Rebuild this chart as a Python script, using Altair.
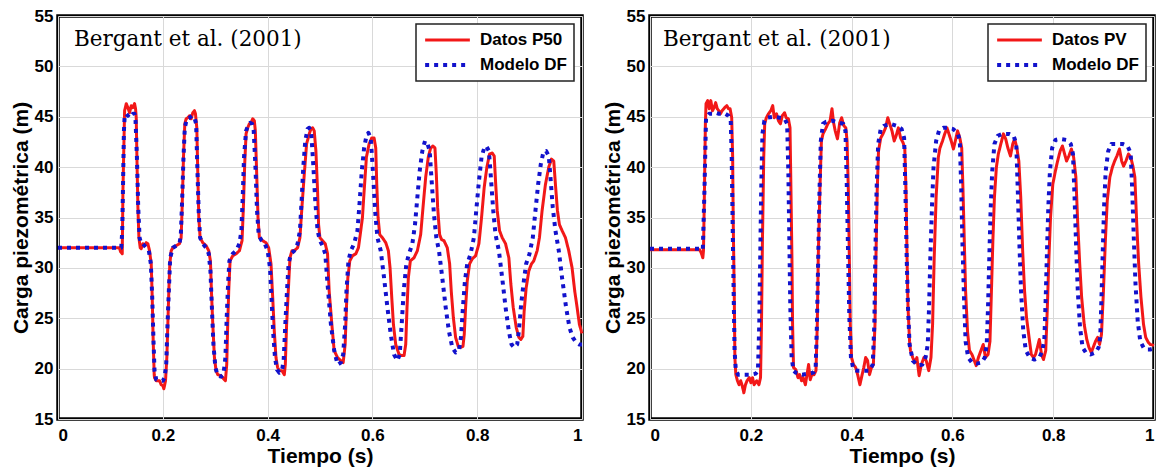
import altair as alt
import pandas as pd

X_TICKS = [0, 0.2, 0.4, 0.6, 0.8, 1.0]
Y_TICKS = [15, 20, 25, 30, 35, 40, 45, 50, 55]
X_TITLE = "Tiempo (s)"
Y_TITLE = "Carga piezométrica (m)"
ANNOTATION = "Bergant et al. (2001)"
LEFT_DATA_NAME = "Datos P50"
RIGHT_DATA_NAME = "Datos PV"
MODEL_NAME = "Modelo DF"
RED = "#f21818"
BLUE = "#1212cc"

# (t [s], carga [m])
p50 = [(0.0, 32.0), (0.05, 32.0), (0.1, 32.0), (0.117, 32.0), (0.1195, 31.6), (0.1226, 31.4), (0.1239, 37.6), (0.1271, 45.6), (0.1303, 46.3), (0.1334, 45.9), (0.1366, 45.4), (0.1398, 46.1), (0.143, 45.9), (0.1461, 46.3), (0.148, 45.8), (0.1493, 44.9), (0.1506, 41.0), (0.1525, 36.0), (0.1544, 33.0), (0.1569, 32.0), (0.1588, 31.9), (0.162, 32.4), (0.1652, 32.2), (0.1684, 32.5), (0.1715, 32.4), (0.1747, 31.7), (0.1779, 30.4), (0.1798, 27.1), (0.1817, 22.7), (0.1836, 19.4), (0.1842, 19.1), (0.1874, 18.8), (0.1938, 18.8), (0.1969, 18.4), (0.2001, 18.3), (0.202, 18.0), (0.2052, 18.8), (0.2077, 21.1), (0.2096, 24.4), (0.2115, 27.7), (0.2134, 30.4), (0.216, 31.7), (0.2192, 32.0), (0.2255, 32.2), (0.2319, 32.4), (0.235, 33.0), (0.2369, 36.0), (0.2395, 41.0), (0.242, 44.3), (0.2446, 44.8), (0.2477, 44.9), (0.2509, 45.1), (0.2541, 44.8), (0.2573, 45.4), (0.2604, 45.6), (0.2623, 45.3), (0.2649, 43.9), (0.2668, 39.3), (0.2687, 35.0), (0.2712, 33.0), (0.2763, 32.5), (0.2827, 32.2), (0.2877, 31.7), (0.2909, 30.7), (0.2928, 27.7), (0.2954, 24.4), (0.2985, 21.1), (0.3017, 19.8), (0.3049, 19.4), (0.3112, 19.3), (0.3176, 18.9), (0.3195, 18.8), (0.322, 20.4), (0.3239, 24.4), (0.3258, 27.7), (0.3284, 30.7), (0.3335, 31.2), (0.3398, 31.4), (0.3462, 31.7), (0.3512, 32.7), (0.3538, 36.0), (0.3563, 40.3), (0.3589, 43.3), (0.362, 43.9), (0.3652, 44.3), (0.3684, 44.4), (0.3716, 44.8), (0.3747, 44.6), (0.3766, 43.6), (0.3792, 39.3), (0.3817, 35.0), (0.3843, 33.0), (0.3906, 32.7), (0.397, 32.5), (0.402, 32.0), (0.4065, 30.4), (0.4097, 27.1), (0.4128, 23.7), (0.416, 21.1), (0.4192, 20.1), (0.4224, 19.8), (0.4274, 19.8), (0.4319, 19.4), (0.4338, 20.4), (0.4363, 24.4), (0.4395, 27.7), (0.4427, 31.0), (0.4465, 31.7), (0.4509, 31.7), (0.4573, 32.0), (0.4617, 33.0), (0.4655, 36.0), (0.47, 39.3), (0.4744, 42.3), (0.4795, 43.3), (0.4827, 43.8), (0.4859, 43.9), (0.489, 43.6), (0.4922, 41.6), (0.4954, 37.6), (0.4973, 34.3), (0.4998, 33.0), (0.5049, 32.7), (0.51, 32.4), (0.5144, 31.4), (0.5175, 27.7), (0.5226, 24.4), (0.527, 21.8), (0.5334, 21.1), (0.5397, 20.8), (0.5442, 20.6), (0.548, 22.4), (0.5505, 26.1), (0.5531, 29.0), (0.5569, 30.7), (0.562, 31.2), (0.5683, 31.4), (0.5734, 32.0), (0.5778, 33.7), (0.581, 35.0), (0.5842, 37.6), (0.5886, 41.0), (0.5937, 42.3), (0.5988, 42.9), (0.6032, 42.9), (0.6064, 41.9), (0.6083, 38.3), (0.6108, 35.0), (0.614, 33.3), (0.6191, 33.0), (0.6255, 32.5), (0.6305, 31.7), (0.6337, 30.0), (0.6369, 27.1), (0.6401, 24.4), (0.6445, 22.4), (0.6509, 21.4), (0.6559, 21.3), (0.6604, 21.3), (0.6636, 22.4), (0.6661, 26.1), (0.6686, 29.0), (0.6724, 30.7), (0.6794, 31.0), (0.6858, 31.7), (0.6921, 33.3), (0.6966, 36.0), (0.7017, 39.0), (0.7067, 41.0), (0.7112, 41.9), (0.7156, 42.1), (0.7194, 41.9), (0.722, 39.3), (0.7245, 36.0), (0.7283, 33.3), (0.7321, 32.8), (0.7366, 32.7), (0.7429, 32.0), (0.7474, 30.4), (0.7505, 27.7), (0.7544, 25.1), (0.7588, 23.1), (0.7639, 22.2), (0.7683, 22.1), (0.7728, 22.2), (0.7753, 23.4), (0.7779, 26.1), (0.781, 28.7), (0.7855, 30.4), (0.7906, 30.9), (0.7969, 31.2), (0.8033, 32.4), (0.8083, 35.0), (0.8134, 38.0), (0.8185, 40.0), (0.8236, 41.3), (0.8287, 41.4), (0.8325, 41.1), (0.835, 38.6), (0.8382, 35.7), (0.8426, 33.7), (0.8477, 33.0), (0.8541, 32.4), (0.8604, 31.0), (0.8642, 28.4), (0.8687, 26.1), (0.8744, 24.1), (0.8795, 23.1), (0.8833, 22.9), (0.8871, 23.2), (0.8896, 25.7), (0.8934, 28.0), (0.8985, 29.7), (0.9036, 30.4), (0.908, 30.7), (0.9144, 31.7), (0.9188, 33.0), (0.9239, 35.7), (0.9303, 38.3), (0.9366, 40.0), (0.9417, 40.8), (0.9461, 40.6), (0.9493, 38.3), (0.9531, 35.7), (0.9569, 34.3), (0.962, 33.7), (0.9684, 33.0), (0.9747, 31.7), (0.9811, 30.0), (0.9861, 27.7), (0.9906, 26.1), (0.995, 24.4), (0.9988, 23.7), (1.0, 23.5)]

df_left = [(0.0, 32.0), (0.1, 32.0), (0.1207, 32.0), (0.1226, 33.7), (0.1239, 37.6), (0.1258, 43.6), (0.1271, 44.9), (0.1303, 45.3), (0.1334, 45.1), (0.1366, 45.3), (0.1398, 45.1), (0.143, 45.3), (0.1461, 45.3), (0.148, 44.6), (0.1506, 41.0), (0.1531, 36.0), (0.1557, 33.0), (0.1588, 32.4), (0.162, 32.4), (0.1684, 32.0), (0.1734, 31.7), (0.1772, 30.4), (0.1798, 27.1), (0.1823, 22.7), (0.1842, 19.8), (0.1874, 18.9), (0.1938, 18.8), (0.2001, 18.8), (0.2033, 19.1), (0.2065, 20.4), (0.209, 24.4), (0.2115, 27.7), (0.2141, 31.0), (0.2192, 32.0), (0.2255, 32.2), (0.2319, 32.4), (0.2344, 33.3), (0.2369, 36.7), (0.2395, 41.0), (0.242, 43.9), (0.2458, 44.8), (0.2509, 44.9), (0.256, 45.1), (0.2604, 44.9), (0.2636, 44.3), (0.2661, 39.6), (0.2687, 35.3), (0.2712, 33.0), (0.2763, 32.4), (0.2827, 32.0), (0.2877, 31.4), (0.2909, 29.7), (0.2934, 26.4), (0.2966, 22.4), (0.3004, 20.1), (0.3049, 19.3), (0.3112, 19.2), (0.3157, 19.4), (0.3195, 21.1), (0.322, 25.1), (0.3246, 28.4), (0.3271, 30.7), (0.3335, 31.4), (0.3398, 31.7), (0.3462, 32.4), (0.35, 33.7), (0.3525, 37.0), (0.355, 41.0), (0.3589, 43.6), (0.3639, 44.3), (0.3665, 44.4), (0.3703, 44.3), (0.3735, 43.6), (0.3766, 40.3), (0.3798, 35.7), (0.383, 33.3), (0.3874, 32.8), (0.3938, 32.5), (0.4001, 31.7), (0.4046, 30.0), (0.4077, 26.7), (0.4109, 23.4), (0.4141, 21.1), (0.4179, 19.9), (0.4224, 19.6), (0.4274, 19.8), (0.4306, 20.8), (0.4338, 24.4), (0.437, 27.7), (0.4401, 30.4), (0.4446, 31.4), (0.4509, 31.7), (0.4573, 32.4), (0.4617, 33.7), (0.4649, 36.7), (0.4681, 40.0), (0.4719, 42.6), (0.4763, 43.8), (0.4795, 43.9), (0.4833, 43.4), (0.4871, 40.3), (0.4909, 36.7), (0.4954, 33.7), (0.4998, 32.7), (0.5049, 32.2), (0.51, 31.4), (0.5144, 28.4), (0.5208, 24.4), (0.5271, 21.8), (0.5335, 20.4), (0.5397, 20.6), (0.5442, 21.4), (0.548, 24.4), (0.5505, 27.7), (0.5543, 30.7), (0.5588, 31.7), (0.5651, 32.4), (0.5715, 33.7), (0.5759, 36.7), (0.5797, 39.6), (0.5842, 41.9), (0.5886, 43.1), (0.5924, 43.4), (0.5969, 42.9), (0.6013, 39.3), (0.6051, 35.7), (0.6096, 33.0), (0.6159, 31.7), (0.6223, 29.0), (0.6286, 26.1), (0.635, 23.4), (0.6413, 21.4), (0.6477, 20.8), (0.6521, 21.4), (0.6559, 24.4), (0.6597, 27.7), (0.6648, 30.4), (0.6699, 31.4), (0.6763, 32.4), (0.6813, 34.3), (0.6858, 37.0), (0.6902, 39.6), (0.6953, 41.6), (0.7004, 42.6), (0.7048, 42.4), (0.7093, 41.6), (0.7131, 38.6), (0.7175, 35.3), (0.722, 33.0), (0.7271, 31.7), (0.7334, 29.0), (0.7398, 26.1), (0.7461, 23.7), (0.7525, 22.1), (0.7588, 21.6), (0.7652, 21.8), (0.769, 23.1), (0.7728, 26.1), (0.7766, 28.7), (0.781, 30.4), (0.7874, 31.4), (0.7937, 33.0), (0.7982, 35.7), (0.8033, 38.6), (0.8083, 41.0), (0.8134, 41.9), (0.8172, 42.1), (0.8223, 41.6), (0.8261, 39.0), (0.8306, 35.7), (0.835, 33.3), (0.8414, 31.7), (0.8477, 29.0), (0.8541, 26.1), (0.8604, 23.7), (0.8655, 22.4), (0.8706, 22.1), (0.8763, 22.4), (0.8795, 23.7), (0.8839, 26.4), (0.889, 28.7), (0.8934, 30.4), (0.8998, 31.4), (0.9061, 33.0), (0.9112, 35.7), (0.9163, 38.3), (0.9214, 40.3), (0.9264, 41.5), (0.9315, 41.6), (0.9366, 41.1), (0.9404, 38.6), (0.9442, 36.0), (0.9493, 33.7), (0.9557, 31.7), (0.962, 29.0), (0.9696, 26.1), (0.976, 24.1), (0.9823, 23.1), (0.9887, 22.6), (0.995, 22.4), (1.0, 22.4)]

pv = [(0.0, 31.8), (0.05, 31.8), (0.09, 31.8), (0.0985, 31.8), (0.1016, 31.5), (0.1048, 31.0), (0.1061, 31.7), (0.108, 37.6), (0.1099, 44.3), (0.1112, 46.3), (0.1144, 46.6), (0.1175, 45.8), (0.1207, 46.6), (0.1239, 45.6), (0.1271, 45.9), (0.1303, 46.4), (0.1334, 45.8), (0.1366, 45.6), (0.1398, 45.3), (0.143, 45.6), (0.1481, 45.9), (0.1525, 46.1), (0.1557, 45.8), (0.1589, 45.8), (0.1621, 44.9), (0.164, 41.0), (0.1652, 34.3), (0.1671, 27.7), (0.1684, 21.1), (0.1703, 19.4), (0.1735, 18.8), (0.1767, 18.4), (0.1799, 18.8), (0.183, 18.3), (0.1862, 17.6), (0.1894, 18.4), (0.1926, 18.8), (0.197, 19.1), (0.2002, 18.6), (0.2034, 19.1), (0.2066, 18.4), (0.2117, 18.8), (0.2161, 18.4), (0.2193, 19.1), (0.2212, 24.4), (0.2231, 32.7), (0.2257, 41.0), (0.2276, 44.3), (0.2308, 44.9), (0.2352, 45.3), (0.2397, 45.6), (0.2435, 46.1), (0.2466, 44.9), (0.2511, 45.3), (0.2549, 44.6), (0.2587, 44.3), (0.2625, 45.1), (0.267, 45.4), (0.2702, 44.9), (0.2746, 44.8), (0.2778, 43.9), (0.2797, 37.6), (0.2816, 31.0), (0.2829, 24.4), (0.2848, 20.1), (0.2893, 19.9), (0.2937, 19.1), (0.2969, 19.4), (0.3007, 18.8), (0.3039, 19.1), (0.3083, 18.4), (0.3115, 19.4), (0.3147, 20.4), (0.3179, 18.9), (0.3211, 19.4), (0.3255, 19.4), (0.3293, 19.8), (0.3319, 24.4), (0.3338, 31.0), (0.337, 37.6), (0.3401, 42.6), (0.3433, 43.3), (0.3484, 43.8), (0.3529, 44.3), (0.3573, 44.6), (0.3611, 45.8), (0.3643, 44.4), (0.3675, 43.6), (0.3719, 42.8), (0.3764, 44.4), (0.3802, 44.9), (0.3847, 44.1), (0.3885, 43.9), (0.391, 42.6), (0.3936, 37.6), (0.3955, 31.0), (0.3974, 24.4), (0.3999, 21.1), (0.4037, 20.4), (0.4082, 20.1), (0.412, 19.4), (0.4165, 18.4), (0.4209, 19.4), (0.4241, 20.1), (0.4279, 21.1), (0.4317, 20.8), (0.4355, 19.4), (0.4394, 20.1), (0.4432, 20.4), (0.4464, 24.4), (0.4483, 31.0), (0.4508, 37.6), (0.4534, 41.6), (0.4578, 42.9), (0.4623, 43.3), (0.4673, 43.9), (0.4718, 44.9), (0.4756, 44.3), (0.4801, 43.6), (0.4845, 42.6), (0.4883, 43.1), (0.4928, 43.9), (0.4972, 42.9), (0.5023, 42.4), (0.5055, 41.9), (0.508, 37.6), (0.51, 31.0), (0.5119, 26.1), (0.515, 22.7), (0.5168, 21.8), (0.5212, 21.1), (0.5257, 20.6), (0.5295, 21.1), (0.534, 19.3), (0.5384, 20.4), (0.5435, 21.1), (0.548, 20.8), (0.553, 19.8), (0.5575, 21.1), (0.5607, 24.4), (0.5639, 31.0), (0.5677, 37.0), (0.5721, 41.0), (0.5753, 41.9), (0.5804, 42.6), (0.5848, 43.3), (0.5893, 43.9), (0.5931, 43.3), (0.5976, 42.6), (0.602, 41.8), (0.6058, 42.6), (0.6103, 43.6), (0.6147, 42.9), (0.6185, 41.9), (0.6211, 37.6), (0.6236, 32.7), (0.6262, 27.7), (0.63, 23.7), (0.6338, 21.8), (0.6389, 21.4), (0.6434, 20.8), (0.6472, 20.3), (0.6516, 21.1), (0.6567, 21.8), (0.6612, 22.4), (0.6656, 21.1), (0.6707, 21.4), (0.6745, 22.7), (0.6771, 27.1), (0.6803, 32.7), (0.6834, 37.0), (0.6873, 40.0), (0.6911, 41.3), (0.6961, 42.3), (0.7012, 43.3), (0.7057, 42.8), (0.7101, 41.9), (0.7152, 41.1), (0.7197, 42.3), (0.7235, 42.8), (0.7279, 41.9), (0.7318, 40.6), (0.7356, 37.0), (0.7394, 31.7), (0.7432, 27.7), (0.747, 25.1), (0.7521, 23.1), (0.7566, 21.4), (0.761, 21.1), (0.7648, 21.4), (0.7686, 22.1), (0.7725, 22.9), (0.7769, 21.4), (0.7807, 20.9), (0.7852, 21.8), (0.7884, 26.1), (0.7915, 31.0), (0.7947, 35.0), (0.7992, 38.3), (0.8043, 39.6), (0.8087, 40.6), (0.8138, 41.6), (0.8183, 42.1), (0.8221, 41.4), (0.8265, 40.6), (0.831, 41.1), (0.8361, 41.8), (0.8405, 41.0), (0.845, 39.0), (0.8488, 34.3), (0.8526, 30.4), (0.8564, 27.1), (0.8615, 24.4), (0.8666, 22.9), (0.871, 22.1), (0.8755, 21.6), (0.8793, 22.1), (0.8838, 22.7), (0.8882, 23.1), (0.892, 22.4), (0.8958, 23.4), (0.8997, 27.7), (0.9035, 32.7), (0.9073, 36.7), (0.9124, 39.0), (0.9175, 40.0), (0.9219, 40.6), (0.9264, 41.1), (0.9315, 41.8), (0.9359, 40.6), (0.9397, 40.1), (0.9442, 40.6), (0.9493, 41.3), (0.9537, 41.0), (0.9582, 40.1), (0.962, 39.0), (0.9658, 34.3), (0.9696, 30.4), (0.9741, 27.1), (0.9792, 24.4), (0.9836, 23.1), (0.9887, 22.6), (0.9925, 22.4), (1.0, 22.3)]

df_right = [(0.0, 31.9), (0.1, 31.9), (0.1048, 31.8), (0.108, 37.6), (0.1112, 44.9), (0.1175, 45.3), (0.1239, 45.3), (0.1303, 45.4), (0.1366, 45.3), (0.143, 45.3), (0.1493, 45.3), (0.1557, 45.1), (0.1602, 44.6), (0.1621, 41.0), (0.164, 34.3), (0.1659, 27.7), (0.1678, 21.8), (0.1703, 19.8), (0.1748, 19.4), (0.1875, 19.4), (0.2002, 19.4), (0.2098, 19.5), (0.2142, 19.8), (0.2168, 24.4), (0.2187, 31.0), (0.2206, 37.6), (0.2231, 43.3), (0.2269, 44.6), (0.232, 44.9), (0.2447, 45.0), (0.2575, 44.9), (0.267, 44.8), (0.2721, 44.3), (0.2746, 39.3), (0.2765, 32.7), (0.2784, 26.1), (0.281, 21.1), (0.2848, 19.8), (0.2893, 19.6), (0.302, 19.4), (0.3147, 19.5), (0.3242, 19.6), (0.3287, 20.1), (0.3312, 24.4), (0.3338, 31.0), (0.3363, 37.6), (0.3389, 42.6), (0.3433, 44.3), (0.3497, 44.5), (0.3624, 44.6), (0.3751, 44.4), (0.3834, 44.3), (0.3878, 43.6), (0.3904, 38.3), (0.3929, 31.7), (0.3955, 25.1), (0.3987, 21.1), (0.4037, 19.9), (0.4101, 19.8), (0.4228, 19.8), (0.4355, 19.8), (0.4419, 20.4), (0.4451, 24.4), (0.447, 31.0), (0.4495, 37.6), (0.4527, 42.3), (0.4578, 43.8), (0.4642, 44.1), (0.4769, 44.3), (0.4896, 44.1), (0.4991, 43.8), (0.5042, 42.9), (0.5068, 37.6), (0.5093, 31.0), (0.5119, 26.1), (0.515, 22.4), (0.5214, 20.8), (0.5308, 20.3), (0.5403, 20.4), (0.5467, 21.1), (0.5511, 22.4), (0.5537, 26.1), (0.5562, 31.0), (0.5594, 36.0), (0.5626, 40.0), (0.5677, 42.6), (0.5734, 43.6), (0.5817, 43.9), (0.5912, 43.9), (0.6007, 43.8), (0.6103, 43.4), (0.6147, 42.6), (0.6173, 38.3), (0.6198, 32.7), (0.623, 27.1), (0.6262, 22.7), (0.6313, 21.1), (0.6389, 20.6), (0.6484, 20.5), (0.658, 20.6), (0.6643, 21.1), (0.6681, 22.4), (0.6707, 26.1), (0.6732, 31.0), (0.6758, 35.7), (0.679, 39.6), (0.6834, 42.3), (0.6898, 43.1), (0.6993, 43.3), (0.712, 43.3), (0.7216, 43.1), (0.7267, 42.3), (0.7298, 37.6), (0.733, 32.3), (0.7362, 27.7), (0.7407, 23.7), (0.7457, 21.8), (0.7534, 21.1), (0.7629, 20.9), (0.7725, 21.1), (0.7788, 21.8), (0.7826, 23.1), (0.7852, 27.1), (0.7877, 31.7), (0.7903, 36.0), (0.7935, 39.6), (0.7979, 41.9), (0.8043, 42.7), (0.8138, 42.8), (0.8265, 42.7), (0.8348, 42.3), (0.8392, 41.3), (0.8424, 37.0), (0.8456, 32.0), (0.8488, 27.7), (0.8532, 24.1), (0.8583, 22.1), (0.8647, 21.6), (0.8742, 21.4), (0.8838, 21.6), (0.8901, 22.1), (0.8933, 23.1), (0.8958, 27.1), (0.8984, 31.7), (0.9009, 36.0), (0.9041, 39.6), (0.9092, 41.6), (0.9156, 42.3), (0.9251, 42.3), (0.9378, 42.3), (0.9474, 42.1), (0.9537, 41.4), (0.9569, 37.6), (0.9601, 32.7), (0.9633, 28.4), (0.9677, 24.7), (0.9728, 22.7), (0.9792, 22.1), (0.9855, 21.9), (0.9925, 21.9), (1.0, 22.0)]

LABEL_FONT = "Liberation Sans"


def panel(data_name, data_pts, model_pts, text_x, width):
    rows = [{"t": t, "v": v, "serie": data_name} for t, v in data_pts]
    rows += [{"t": t, "v": v, "serie": MODEL_NAME} for t, v in model_pts]
    df = pd.DataFrame(rows)
    domain = [data_name, MODEL_NAME]
    leg = alt.Legend(
        title=None, orient="top-right", offset=8, padding=7,
        strokeColor="#222222", fillColor="white",
        labelFont=LABEL_FONT, labelFontSize=17, labelFontWeight="bold",
        labelColor="black", symbolType="stroke", symbolSize=2000,
        clipHeight=18, rowPadding=7, labelOffset=8,
    )
    lines = alt.Chart(df).mark_line(strokeJoin="round", strokeCap="butt").encode(
        x=alt.X("t:Q", scale=alt.Scale(domain=[0, 1], nice=False),
                axis=alt.Axis(values=X_TICKS, format="~g", title=X_TITLE)),
        y=alt.Y("v:Q", scale=alt.Scale(domain=[15, 55], nice=False),
                axis=alt.Axis(values=Y_TICKS, title=Y_TITLE)),
        color=alt.Color("serie:N", scale=alt.Scale(domain=domain, range=[RED, BLUE]), legend=leg),
        strokeDash=alt.StrokeDash("serie:N", scale=alt.Scale(domain=domain, range=[[1, 0], [4, 5]]), legend=leg),
        strokeWidth=alt.StrokeWidth("serie:N", scale=alt.Scale(domain=domain, range=[3, 4]), legend=leg),
    )
    txt = alt.Chart(pd.DataFrame({"label": [ANNOTATION]})).mark_text(
        align="left", baseline="alphabetic", font="DejaVu Serif",
        fontSize=21.5, color="black",
    ).encode(x=alt.value(text_x), y=alt.value(30), text="label:N")
    return alt.layer(lines, txt).properties(width=width, height=403)


left = panel(LEFT_DATA_NAME, p50, df_left, 16, 524)
right = panel(RIGHT_DATA_NAME, pv, df_right, 13, 504)

chart = alt.hconcat(left, right, spacing=14).resolve_scale(
    color="independent", strokeDash="independent", strokeWidth="independent"
).resolve_legend(
    color="independent", strokeDash="independent", strokeWidth="independent"
).properties(
    padding={"left": 0, "top": -3, "right": 0, "bottom": 0}, background="white"
).configure_view(
    stroke="black", strokeWidth=3.5
).configure_axis(
    labelFont=LABEL_FONT, labelFontSize=17, labelFontWeight="bold", labelColor="black",
    titleFont=LABEL_FONT, titleFontSize=21, titleFontWeight="bold", titleColor="black",
    grid=True, gridColor="#d9d9d9", gridWidth=1, ticks=False, domain=False,
).configure_axisX(labelPadding=8, titlePadding=2).configure_axisY(
    labelPadding=5, titlePadding=3
).configure_legend(strokeWidth=1.5)

chart.save("out.html", embed_options={"renderer": "svg", "actions": False})
